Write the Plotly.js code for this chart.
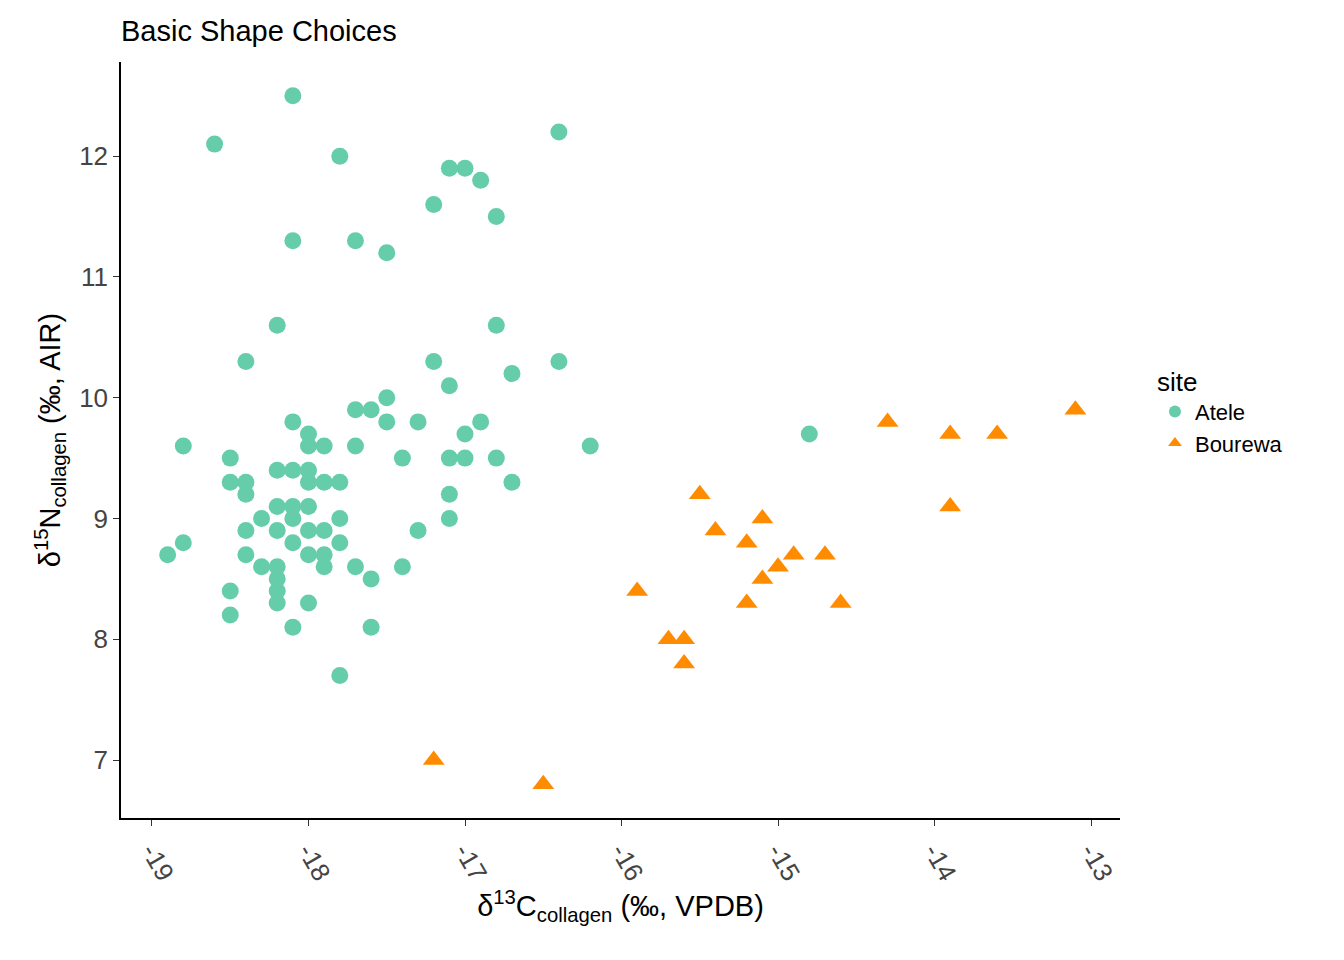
<!DOCTYPE html>
<html>
<head>
<meta charset="utf-8">
<script src="https://cdn.plot.ly/plotly-3.0.1.min.js"></script>
<style>body{margin:0;background:#fff}</style>
</head>
<body>
<div id="chart" style="width:1344px;height:960px"></div>
<script>
// Atele (circles)
const ateleC = [-18.1,-18.6,-17.8,-16.4,-17.1,-17.0,-16.9,-17.2,-16.8,-18.1,-17.7,-17.5,-18.2,-16.8,-18.4,-17.2,-16.4,-16.7,-17.1,-17.5,
  -17.7,-17.6,-18.1,-17.5,-17.3,-16.9,-18.0,-17.0,-14.8,-18.8,-18.0,-17.9,-17.7,-16.2,-18.5,-17.4,-17.1,-17.0,-16.8,-18.2,
  -18.1,-18.0,-18.5,-18.4,-18.0,-17.9,-17.8,-16.7,-18.4,-17.1,-18.2,-18.1,-18.0,-18.3,-18.1,-17.8,-17.1,-18.4,-18.2,-18.0,
  -17.9,-17.3,-18.8,-18.1,-17.8,-18.9,-18.4,-18.0,-17.9,-18.3,-18.2,-17.9,-17.7,-17.4,-18.2,-17.6,-18.5,-18.2,-18.2,-18.0,
  -18.5,-18.1,-17.6,-17.8];
const ateleN = [12.5,12.1,12.0,12.2,11.9,11.9,11.8,11.6,11.5,11.3,11.3,11.2,10.6,10.6,10.3,10.3,10.3,10.2,10.1,10.0,
  9.9,9.9,9.8,9.8,9.8,9.8,9.7,9.7,9.7,9.6,9.6,9.6,9.6,9.6,9.5,9.5,9.5,9.5,9.5,9.4,
  9.4,9.4,9.3,9.3,9.3,9.3,9.3,9.3,9.2,9.2,9.1,9.1,9.1,9.0,9.0,9.0,9.0,8.9,8.9,8.9,
  8.9,8.9,8.8,8.8,8.8,8.7,8.7,8.7,8.7,8.6,8.6,8.6,8.6,8.6,8.5,8.5,8.4,8.4,8.3,8.3,
  8.2,8.1,8.1,7.7];

// Bourewa (triangles)
const bourC = [-13.1,-14.3,-13.9,-13.6,-13.9,-15.5,-15.4,-15.1,-15.2,-14.9,-14.7,-15.0,-15.1,-15.2,-14.6,-15.9,-15.7,-15.6,-15.6,-17.2,-16.5];
const bourN = [9.9,9.8,9.7,9.7,9.1,9.2,8.9,9.0,8.8,8.7,8.7,8.6,8.5,8.3,8.3,8.4,8.0,8.0,7.8,7.0,6.8];

const xTicks = [-19,-18,-17,-16,-15,-14,-13];
const yTicks = [7,8,9,10,11,12];

const fam = 'Liberation Sans';

const traces = [
  {x: ateleC, y: ateleN, name: 'Atele', mode: 'markers', type: 'scatter',
   marker: {symbol: 'circle', size: 17, color: '#66CDAA'}},
  {x: bourC, y: bourN, name: 'Bourewa', mode: 'markers', type: 'scatter',
   marker: {symbol: 'triangle-up', size: 19, color: '#FF8C00'}}
];

const layout = {
  width: 1344, height: 960,
  margin: {l: 121, r: 224, t: 62, b: 142},
  paper_bgcolor: '#fff', plot_bgcolor: '#fff',
  font: {family: fam, color: '#000', size: 20},
  title: {text: 'Basic Shape Choices', x: 121/1344, xanchor: 'left', y: 0.968, yanchor: 'middle',
          font: {size: 29, color: '#000', family: fam}},
  xaxis: {range: [-19.198, -12.815], tickvals: xTicks, ticktext: xTicks.map(String),
          tickangle: 60, ticks: 'outside', ticklen: 6, tickcolor: '#333',
          tickfont: {size: 26, color: '#444', family: fam}, showgrid: false, zeroline: false,
          showline: true, linecolor: '#000', linewidth: 1.5,
          title: {text: 'δ<sup>13</sup>C<sub>collagen</sub> (‰, VPDB)', font: {size: 29, family: fam}, standoff: 10}},
  yaxis: {range: [6.52, 12.78], tickvals: yTicks, ticks: 'outside', ticklen: 6, tickcolor: '#333',
          tickfont: {size: 26, color: '#444', family: fam}, showgrid: false, zeroline: false,
          showline: true, linecolor: '#000', linewidth: 1.5,
          title: {text: 'δ<sup>15</sup>N<sub>collagen</sub> (‰, AIR)', font: {size: 29, family: fam}, standoff: 10}},
  showlegend: true,
  legend: {x: 1.035, y: 0.61, xanchor: 'left', yanchor: 'top', tracegroupgap: 10,
           title: {text: 'site', font: {size: 26, family: fam}}, font: {size: 22, family: fam}, itemsizing: 'constant'}
};

Plotly.newPlot('chart', traces, layout, {displayModeBar: false});
</script>
</body>
</html>
